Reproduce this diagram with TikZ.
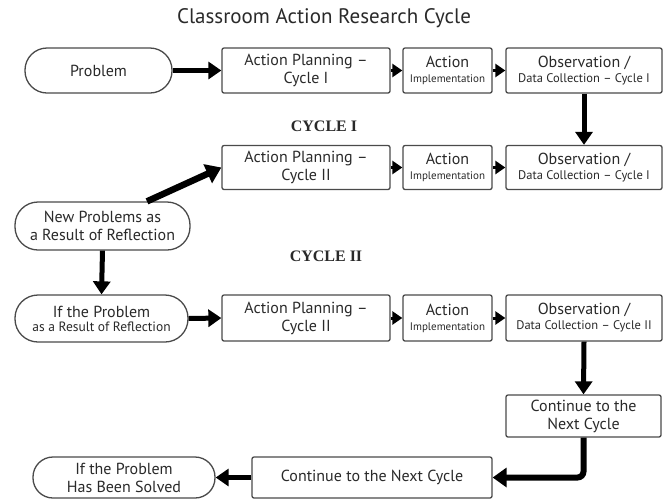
\documentclass[tikz,border=0pt]{standalone}
\usepackage{fontspec}
\setmainfont{PT Sans}
\newfontfamily\cycfont{Liberation Serif}
\usetikzlibrary{arrows.meta,positioning,calc}
\definecolor{bordergray}{HTML}{4A4A4A}
\definecolor{txt}{HTML}{2A2A2A}
\tikzset{
  boxnode/.style={draw=bordergray, line width=1.3pt, rounded corners=2pt, inner sep=0pt, align=center, text=txt, fill=white},
  pillnode/.style={draw=bordergray, line width=1.3pt, inner sep=0pt, align=center, text=txt, fill=white},
  bigarrow/.style={line width=5pt, -{Triangle[length=13pt,width=17pt]}, black},
  smallarrow/.style={line width=3pt, -{Triangle[length=10pt,width=13pt]}, black},
  mainf/.style={font=\fontsize{16}{18}\selectfont},
  cyclabel/.style={font=\cycfont\bfseries\fontsize{16}{18}\selectfont, text=txt},
}
\newcommand{\obstext}[1]{{\fontsize{16}{18}\selectfont Observation /}\\[3pt]{\fontsize{12.5}{14}\selectfont Data Collection -- Cycle #1}}
\newcommand{\acttext}{{\fontsize{16}{18}\selectfont Action}\\[3pt]{\fontsize{11}{12}\selectfont Implementation}}
\begin{document}
\begin{tikzpicture}[x=1pt,y=-1pt]
\useasboundingbox (0,0) rectangle (669,499);
\fill[white] (0,0) rectangle (669,499);

\node[font=\fontsize{21}{23}\selectfont, text=txt] (title) at (324,18) {Classroom Action Research Cycle};

% Row 1
\node[pillnode, mainf, minimum width=147pt, minimum height=45pt, rounded corners=22pt] (prob) at (98.5,70.5) {Problem};
\node[boxnode, mainf, minimum width=168pt, minimum height=45pt] (ap1) at (306,70.5) {Action Planning --\\Cycle I};
\node[boxnode, minimum width=89pt, minimum height=45pt] (act1) at (447.5,70.5) {\acttext};
\node[boxnode, minimum width=156pt, minimum height=45pt] (obs1) at (584,70.5) {\obstext{I}};

\node[cyclabel] (cyc1) at (324,126) {CYCLE I};

% Row 2
\node[boxnode, mainf, minimum width=168pt, minimum height=44pt] (ap2) at (306,167.5) {Action Planning --\\Cycle II};
\node[boxnode, minimum width=89pt, minimum height=44pt] (act2) at (447.5,167.5) {\acttext};
\node[boxnode, minimum width=156pt, minimum height=44pt] (obs2) at (584,167.5) {\obstext{I}};

\node[pillnode, mainf, minimum width=175pt, minimum height=48pt, rounded corners=23pt] (newp) at (102.5,226) {New Problems as\\a Result of Reflection};

\node[cyclabel] (cyc2) at (326,256) {CYCLE II};

% Row 3
\node[pillnode, minimum width=173pt, minimum height=47pt, rounded corners=23pt] (ifp) at (101.5,318.5) {{\fontsize{16}{18}\selectfont If the Problem}\\[2pt]{\fontsize{13.5}{15}\selectfont as a Result of Reflection}};
\node[boxnode, mainf, minimum width=168pt, minimum height=46pt] (ap3) at (306,318) {Action Planning --\\Cycle II};
\node[boxnode, minimum width=89pt, minimum height=46pt] (act3) at (447.5,318) {\acttext};
\node[boxnode, minimum width=156pt, minimum height=46pt] (obs3) at (584,318) {\obstext{II}};

% Bottom
\node[boxnode, mainf, minimum width=155pt, minimum height=42pt] (cont1) at (583.5,416) {Continue to the\\Next Cycle};
\node[boxnode, mainf, minimum width=240pt, minimum height=41pt] (cont2) at (372,477.5) {Continue to the Next Cycle};
\node[pillnode, mainf, minimum width=182pt, minimum height=41pt, rounded corners=20pt] (solved) at (124,477.5) {If the Problem\\Has Been Solved};

% Arrows
\draw[bigarrow] (prob.east) -- (ap1.west);
\draw[smallarrow] (ap1.east) -- (act1.west);
\draw[smallarrow] (act1.east) -- (obs1.west);
\draw[bigarrow] (obs1.south) -- (obs2.north);

\draw[smallarrow] (ap2.east) -- (act2.west);
\draw[smallarrow] (act2.east) -- (obs2.west);
\draw[line width=6.5pt, -{Triangle[length=15pt,width=20pt]}] ([xshift=44.5pt]newp.north) -- (ap2.west);
\draw[bigarrow] (newp.south) -- (ifp.north);

\draw[bigarrow] (ifp.east) -- (ap3.west);
\draw[smallarrow] (ap3.east) -- (act3.west);
\draw[smallarrow] (act3.east) -- (obs3.west);
\draw[bigarrow] (obs3.south) -- (cont1.north);

\draw[line width=6pt, rounded corners=6pt, -{Triangle[length=14pt,width=19pt]}] (cont1.south) |- (cont2.east);
\draw[bigarrow] (cont2.west) -- (solved.east);
\end{tikzpicture}
\end{document}
